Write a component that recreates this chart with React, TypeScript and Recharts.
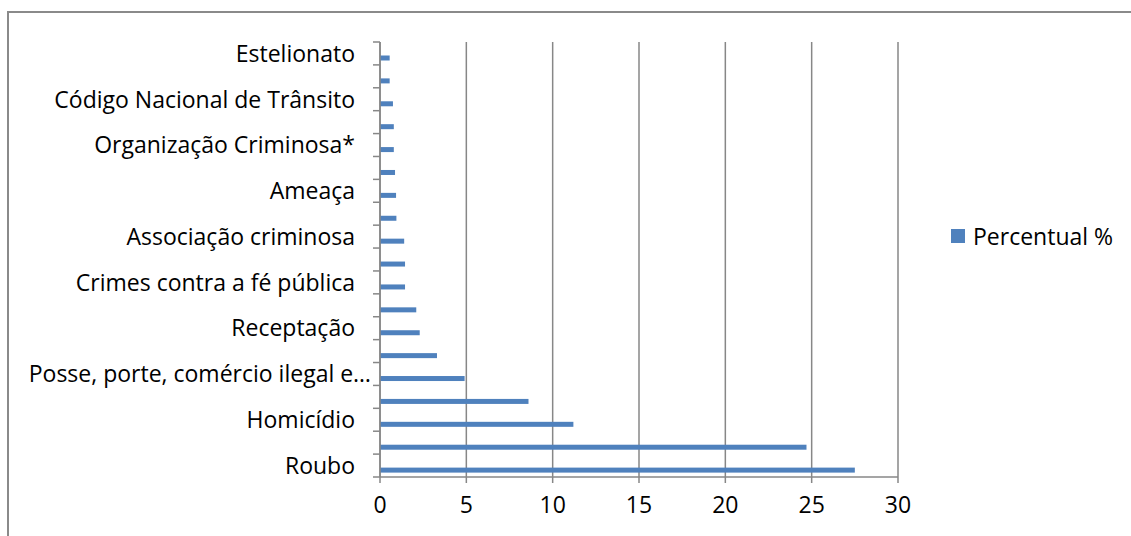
import React from "react";
import { BarChart, Bar, XAxis, YAxis, CartesianGrid, Legend } from "recharts";

// Offence categories, listed from the bottom row upwards (blank rows carry no label)
const crimeLabels = [
  "Roubo",
  "",
  "Homicídio",
  "",
  "Posse, porte, comércio ilegal e…",
  "",
  "Receptação",
  "",
  "Crimes contra a fé pública",
  "",
  "Associação criminosa",
  "",
  "Ameaça",
  "",
  "Organização Criminosa*",
  "",
  "Código Nacional de Trânsito",
  "",
  "Estelionato",
];

// Share of each offence, in percent
const percentValues = [
  27.5, 24.7, 11.2, 8.6, 4.9, 3.3, 2.3, 2.1, 1.45, 1.45, 1.4, 0.95, 0.93, 0.87,
  0.8, 0.8, 0.75, 0.56, 0.56,
];

const xTicks = [0, 5, 10, 15, 20, 25, 30];
const seriesName = "Percentual %";

const rows = crimeLabels.map((label, i) => ({
  key: i,
  label,
  pct: percentValues[i],
}));

const W = 1122;
const H = 523;
const MARGIN = { top: 29, right: 233, bottom: 0, left: 0 };
const Y_AXIS_W = 371;
const X_AXIS_H = 59;
const PLOT_H = H - MARGIN.top - MARGIN.bottom - X_AXIS_H;
const BAND = PLOT_H / crimeLabels.length;
const LABEL_GAP = 25;
const FONT_SIZE = 23;
const FONT = "'Open Sans', 'Liberation Sans', sans-serif";
const AXIS_GREY = "#878787";
const BAR_BLUE = "#4F81BD";

// Category tick: right-aligned label plus Excel-style tick marks on band boundaries
const CrimeTick = (props: any) => {
  const { x, y, payload } = props;
  const idx = Number(payload.value);
  const label = crimeLabels[idx] ?? "";
  const axisX = x + LABEL_GAP;
  const truncated = label.endsWith("…");
  const textX = truncated ? axisX - 9 : x;
  const half = BAND / 2;
  return (
    <g>
      <line x1={axisX - 7} x2={axisX} y1={y + half} y2={y + half} stroke={AXIS_GREY} strokeWidth={1.5} />
      {idx === crimeLabels.length - 1 && (
        <line x1={axisX - 7} x2={axisX} y1={y - half} y2={y - half} stroke={AXIS_GREY} strokeWidth={1.5} />
      )}
      {label && (
        <text x={textX} y={y} dy="0.36em" textAnchor="end" fill="#000" fontSize={FONT_SIZE} fontFamily={FONT}>
          {label}
        </text>
      )}
    </g>
  );
};

// Bars sit a little below the centre of their band
const BAR_SHIFT = 4.5;
const ShiftedBar = (props: any) => {
  const { x, y, width, height } = props;
  if (!width || width <= 0) return null;
  return <rect x={x} y={y + BAR_SHIFT} width={width} height={height} fill={BAR_BLUE} />;
};

const LegendBox = () => (
  <div style={{ display: "flex", alignItems: "center", fontFamily: FONT, fontSize: FONT_SIZE, color: "#000", whiteSpace: "nowrap", lineHeight: "30px" }}>
    <span style={{ display: "inline-block", width: 14, height: 14, background: BAR_BLUE, marginRight: 8 }} />
    <span>{seriesName}</span>
  </div>
);

export default function App() {
  return (
    <>
      <style>{`body{overflow:hidden}`}</style>
      <div
        style={{
          position: "absolute",
          left: 7,
          top: 11,
          width: 1124,
          height: 525,
          borderLeft: "2px solid #8a8a8a",
          borderTop: "2px solid #8a8a8a",
          boxSizing: "border-box",
          background: "#fff",
        }}
      >
        <BarChart width={W} height={H} data={rows} layout="vertical" margin={MARGIN} barSize={5}>
          <CartesianGrid horizontal={false} vertical stroke={AXIS_GREY} strokeWidth={1.5} />
          <XAxis
            type="number"
            domain={[0, 30]}
            ticks={xTicks}
            interval={0}
            height={X_AXIS_H}
            tickSize={6}
            tickMargin={14}
            axisLine={{ stroke: AXIS_GREY, strokeWidth: 1.5 }}
            tickLine={{ stroke: AXIS_GREY, strokeWidth: 1.5 }}
            tick={{ fill: "#000", fontSize: FONT_SIZE, fontFamily: FONT }}
          />
          <YAxis
            type="category"
            dataKey="key"
            reversed
            width={Y_AXIS_W}
            interval={0}
            tickSize={0}
            tickMargin={LABEL_GAP}
            tickLine={false}
            axisLine={{ stroke: AXIS_GREY, strokeWidth: 1.5 }}
            tick={<CrimeTick />}
          />
          <Legend
            layout="horizontal"
            verticalAlign="middle"
            align="center"
            content={<LegendBox />}
            wrapperStyle={{ left: 942, top: 208, width: "auto", height: 30 }}
          />
          <Bar dataKey="pct" name={seriesName} fill={BAR_BLUE} shape={<ShiftedBar />} isAnimationActive={false} />
        </BarChart>
      </div>
    </>
  );
}
